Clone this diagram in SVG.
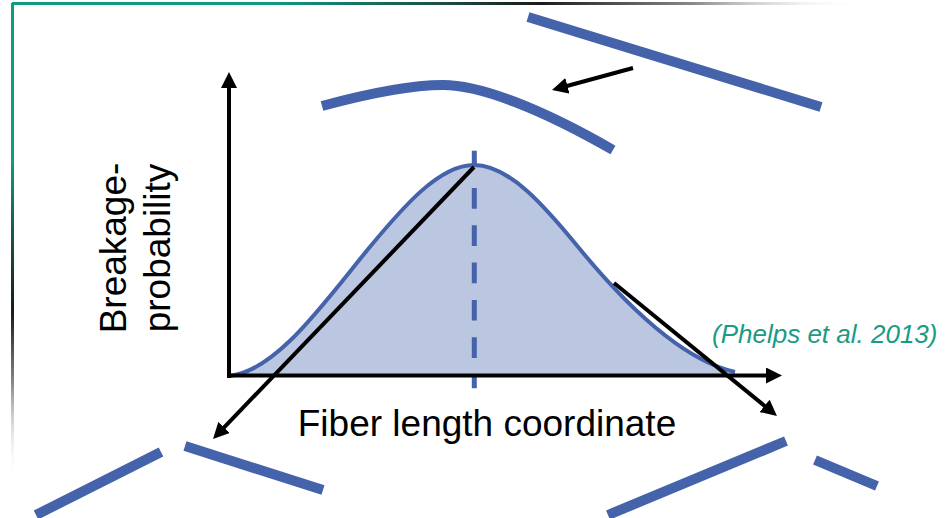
<svg xmlns="http://www.w3.org/2000/svg" width="945" height="518" viewBox="0 0 945 518">
<style>
.frag{fill:none;stroke:#4563AA;stroke-width:10;stroke-linecap:butt}
.arr{fill:none;stroke:#000;stroke-width:4;marker-end:url(#ah)}
.dash{stroke:#4563AA;stroke-width:5}
.lbl{font-family:"Liberation Sans",Arial,sans-serif;font-size:37px;fill:#000}
.cite{font-family:"Liberation Sans",Arial,sans-serif;font-size:26px;font-style:italic;fill:#1A9B82}
</style>
<defs>
<linearGradient id="gTop" gradientUnits="userSpaceOnUse" x1="12" y1="0" x2="862" y2="0">
<stop offset="0" stop-color="#0E9C84"/>
<stop offset="0.3" stop-color="#0E9C84"/>
<stop offset="0.5" stop-color="#1D5048"/>
<stop offset="0.62" stop-color="#1A1A1A"/>
<stop offset="0.8" stop-color="#888"/>
<stop offset="1" stop-color="#fff" stop-opacity="0"/>
</linearGradient>
<linearGradient id="gLeft" gradientUnits="userSpaceOnUse" x1="0" y1="3" x2="0" y2="478">
<stop offset="0" stop-color="#0E9C84"/>
<stop offset="0.33" stop-color="#0E9C84"/>
<stop offset="0.5" stop-color="#1D5048"/>
<stop offset="0.65" stop-color="#1A1A1A"/>
<stop offset="0.8" stop-color="#888"/>
<stop offset="1" stop-color="#fff" stop-opacity="0"/>
</linearGradient>
<marker id="ah" markerUnits="userSpaceOnUse" markerWidth="16" markerHeight="16" viewBox="0 0 16 16" refX="11" refY="8" orient="auto">
<path d="M0,0 L16,8 L0,16 Z" fill="#000"/>
</marker>
</defs>

<g id="frame">
<line x1="12" y1="3.5" x2="862" y2="3.5" stroke="url(#gTop)" stroke-width="3"/>
<line x1="12.5" y1="3" x2="12.5" y2="478" stroke="url(#gLeft)" stroke-width="3"/>
</g>

<g id="curve">
<path d="M229,376 C276,371.3 322,305.3 369,248 C403,207 439,165 474,165 C509,165 544,205.3 579,248 C630,310.2 684,360.3 735,372 L735,376 L229,376 Z" fill="#BBC6E1" stroke="none"/>
<path d="M229,376 C276,371.3 322,305.3 369,248 C403,207 439,165 474,165 C509,165 544,205.3 579,248 C630,310.2 684,360.3 735,372" fill="none" stroke="#4563AA" stroke-width="4"/>
<line class="dash" x1="474.3" y1="150.7" x2="474.3" y2="166"/>
<line class="dash" x1="474.3" y1="188" x2="474.3" y2="388.3" stroke-dasharray="20.7 16.6"/>
</g>

<g id="fragment-top-right"><line class="frag" x1="528" y1="17" x2="821" y2="107"/></g>
<g id="fragment-top-arch"><path class="frag" d="M322,106 C370,93 410,85 443,85 C480,85 540,108 613,150"/></g>
<g id="fragment-bottom-left"><line class="frag" x1="36" y1="515" x2="161" y2="452"/><line class="frag" x1="185" y1="446" x2="323" y2="490"/></g>
<g id="fragment-bottom-right"><line class="frag" x1="608" y1="515" x2="786" y2="441"/><line class="frag" x1="815" y1="460" x2="877" y2="486"/></g>

<g id="connectors">
<line class="arr" x1="229" y1="378" x2="229" y2="77"/>
<line class="arr" x1="227" y1="375.5" x2="777" y2="375.5"/>
<line class="arr" x1="474" y1="167" x2="216.5" y2="435.4"/>
<line class="arr" x1="614" y1="283" x2="773.1" y2="412.8"/>
<line class="arr" x1="633" y1="68" x2="556.8" y2="88.7"/>
</g>

<g id="labels">
<text class="lbl" transform="translate(126,248) rotate(-90)" text-anchor="middle">Breakage-</text>
<text class="lbl" transform="translate(170,248) rotate(-90)" text-anchor="middle">probability</text>
<text class="lbl" x="487" y="436" text-anchor="middle">Fiber length coordinate</text>
<text class="cite" x="712" y="343">(Phelps et al. 2013)</text>
</g>
</svg>
